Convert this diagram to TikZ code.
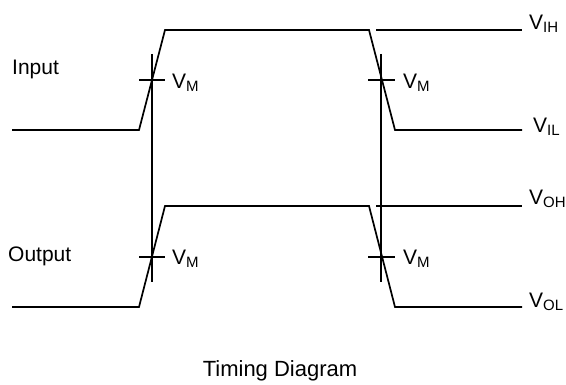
\documentclass[tikz,border=0pt]{standalone}
\usepackage{fontspec}
\setmainfont{Liberation Sans}
\newcommand{\lowsub}[1]{\raisebox{-2.5pt}{\fontsize{15}{16}\selectfont #1}}
\begin{document}
\begin{tikzpicture}[x=1pt,y=-1pt,
  wave/.style={line width=1.7pt, line join=miter},
  mark line/.style={line width=1.7pt},
  lbl/.style={anchor=base west, inner sep=0pt, font=\fontsize{21}{24}\selectfont},
  ttl/.style={anchor=base, inner sep=0pt, font=\fontsize{22}{26}\selectfont}]
\useasboundingbox (0,0) rectangle (566,385);
% input waveform points
\coordinate (i0) at (12,130);
\coordinate (i1) at (139,130);
\coordinate (i2) at (165,30);
\coordinate (i3) at (369,30);
\coordinate (i4) at (395,130);
\coordinate (i5) at (522,130);
\coordinate (ih0) at (376,30);
\coordinate (ih1) at (522,30);
% output waveform points
\coordinate (o0) at (12,307);
\coordinate (o1) at (139,307);
\coordinate (o2) at (165,206);
\coordinate (o3) at (369,206);
\coordinate (o4) at (395,307);
\coordinate (o5) at (522,307);
\coordinate (oh0) at (376,206);
\coordinate (oh1) at (522,206);
% markers
\coordinate (va0) at (152,54);
\coordinate (va1) at (152,282);
\coordinate (vb0) at (381,54);
\coordinate (vb1) at (381,282);
\coordinate (ta0) at (139,80);
\coordinate (ta1) at (165,80);
\coordinate (tb0) at (368,80);
\coordinate (tb1) at (395,80);
\coordinate (tc0) at (139,257);
\coordinate (tc1) at (165,257);
\coordinate (td0) at (368,257);
\coordinate (td1) at (395,257);

\draw[wave] (i0) -- (i1) -- (i2) -- (i3) -- (i4) -- (i5);
\draw[wave] (ih0) -- (ih1);
\draw[wave] (o0) -- (o1) -- (o2) -- (o3) -- (o4) -- (o5);
\draw[wave] (oh0) -- (oh1);
\draw[mark line] (va0) -- (va1);
\draw[mark line] (vb0) -- (vb1);
\draw[mark line] (ta0) -- (ta1);
\draw[mark line] (tb0) -- (tb1);
\draw[mark line] (tc0) -- (tc1);
\draw[mark line] (td0) -- (td1);

\node[lbl] (input) at (12,75) {Input};
\node[lbl] (output) at (8,262) {Output};
\node[lbl] (vm1) at (172,89) {V\lowsub{M}};
\node[lbl] (vm2) at (403,89) {V\lowsub{M}};
\node[lbl] (vm3) at (172,265) {V\lowsub{M}};
\node[lbl] (vm4) at (403,265) {V\lowsub{M}};
\node[lbl] (vih) at (529,30) {V\lowsub{IH}};
\node[lbl] (vil) at (533,133) {V\lowsub{IL}};
\node[lbl] (voh) at (529,205) {V\lowsub{OH}};
\node[lbl] (vol) at (529,308) {V\lowsub{OL}};
\node[ttl] (title) at (280,377) {Timing Diagram};
\end{tikzpicture}
\end{document}
